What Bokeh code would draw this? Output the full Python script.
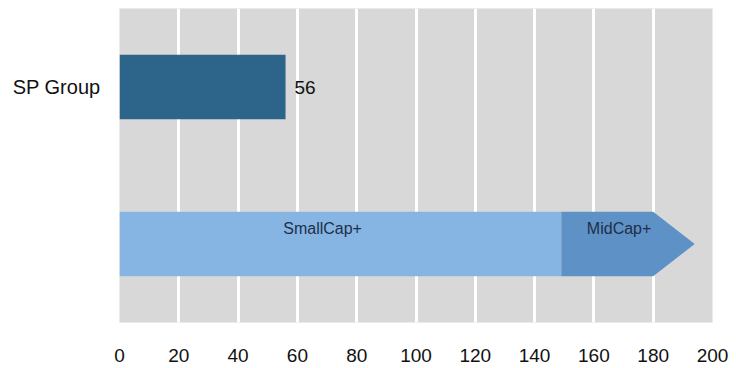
from bokeh.plotting import figure
from bokeh.models import FixedTicker, Range1d
from bokeh.embed import file_html
from bokeh.resources import INLINE
from bokeh.core.properties import value

# Data
bar_label = "SP Group"
bar_value = 56
segments = ["SmallCap+", "MidCap+"]
seg_start = [0, 149]
seg_end = [149, 180]
arrow_tip = 194
x_ticks = [0, 20, 40, 60, 80, 100, 120, 140, 160, 180, 200]

bar_y = 1.5
arrow_y = 0.5
half_h = 0.205

p = figure(width=736, height=368, output_backend="svg", toolbar_location=None,
           x_range=Range1d(0, 200), y_range=Range1d(0, 2),
           min_border_left=119, min_border_right=24, min_border_top=8, min_border_bottom=46)
p.background_fill_color = "#d8d8d8"
p.border_fill_color = "white"
p.outline_line_color = None

p.xgrid.ticker = FixedTicker(ticks=x_ticks)
p.xgrid.grid_line_color = "white"
p.xgrid.grid_line_width = 3
p.ygrid.grid_line_color = None

p.xaxis.ticker = FixedTicker(ticks=x_ticks)
p.xaxis.axis_line_color = None
p.xaxis.major_tick_line_color = None
p.xaxis.minor_tick_line_color = None
p.xaxis.major_label_standoff = 20
p.xaxis.major_label_text_font = "Liberation Sans"
p.xaxis.major_label_text_font_size = "19px"
p.xaxis.major_label_text_color = "#111111"

p.yaxis.ticker = FixedTicker(ticks=[bar_y])
p.yaxis.major_label_overrides = {bar_y: bar_label}
p.yaxis.axis_line_color = None
p.yaxis.major_tick_line_color = None
p.yaxis.minor_tick_line_color = None
p.yaxis.major_label_standoff = 13
p.yaxis.major_label_text_font = "Liberation Sans"
p.yaxis.major_label_text_font_size = "20px"
p.yaxis.major_label_text_color = "#111111"

# SP Group bar
p.hbar(y=[bar_y], left=[0], right=[bar_value], height=2 * half_h,
       fill_color="#2d6489", line_color=None)
p.text(x=[bar_value], y=[bar_y], text=[str(bar_value)], x_offset=9,
       text_baseline="middle", text_align="left",
       text_font=value("Liberation Sans"), text_font_size="19px", text_color="#111111")

# Arrow
top = arrow_y + half_h
bot = arrow_y - half_h
xs = [
    [seg_start[0], seg_end[0], seg_end[0], seg_start[0]],
    [seg_start[1], seg_end[1], arrow_tip, seg_end[1], seg_start[1]],
]
ys = [
    [bot, bot, top, top],
    [bot, bot, arrow_y, top, top],
]
p.patches(xs=xs, ys=ys, fill_color=["#86b5e4", "#5e91c6"], line_color=None)

label_x = [(seg_start[0] + seg_end[0]) / 2 - 6, (seg_start[1] + seg_end[1]) / 2 + 4]
p.text(x=label_x, y=[arrow_y + 0.1, arrow_y + 0.1], text=segments,
       text_baseline="middle", text_align="center",
       text_font=value("Liberation Sans"), text_font_size="16px", text_color="#1e2f48")

open("out.html", "w").write(file_html(p, INLINE))
